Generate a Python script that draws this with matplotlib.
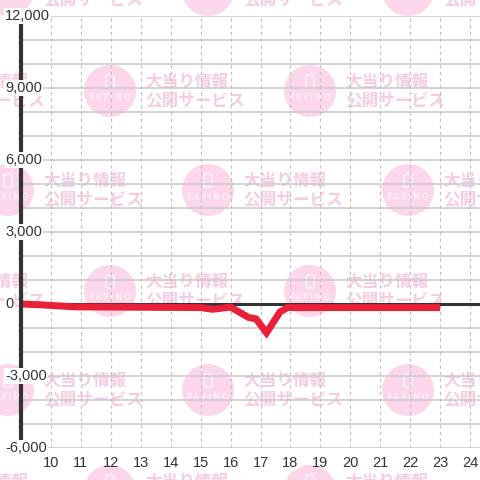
import matplotlib
matplotlib.use("Agg")
import matplotlib.pyplot as plt
from matplotlib.patches import Circle, FancyBboxPatch
from matplotlib import transforms

# データ（時刻と差枚）
hours = [9.0, 9.6, 10.8, 15.0, 15.4, 16.0, 16.6, 16.85, 17.2, 17.65, 17.9, 23.0]
values = [0, -30, -120, -150, -220, -130, -560, -620, -1200, -330, -150, -150]

x_ticks = list(range(10, 25))
y_ticks = [12000, 9000, 6000, 3000, 0, -3000, -6000]
y_labels = ["12,000", "9,000", "6,000", "3,000", "0", "-3,000", "-6,000"]

plt.rcParams['font.family'] = ['Liberation Sans', 'DejaVu Sans']

fig = plt.figure(figsize=(4.8, 4.8), dpi=100)
fig.patch.set_facecolor("white")

# 背景の透かし（ピクセル座標）
bg = fig.add_axes([0, 0, 1, 1], zorder=-1)
bg.set_xlim(0, 480)
bg.set_ylim(480, 0)
bg.axis("off")

pink_circle = "#fcd7eb"
pink_text = "#f7cbe3"


def watermark(cx, cy):
    bg.add_patch(Circle((cx, cy), 26, color=pink_circle, lw=0))
    bg.add_patch(FancyBboxPatch((cx - 4, cy - 16), 8, 13,
                                boxstyle="round,pad=0,rounding_size=1.5",
                                fill=False, ec="white", lw=0.8))
    bg.text(cx, cy + 7, "P A P I M O", color="white", fontsize=5.5, ha="center",
            va="center", family="DejaVu Sans")
    bg.text(cx + 35, cy - 9, "大当り情報", color=pink_text, fontsize=12,
            ha="left", va="center", fontweight="bold",
            family=["Noto Sans CJK JP", "DejaVu Sans"])
    bg.text(cx + 35, cy + 9, "公開サービス", color=pink_text, fontsize=12,
            ha="left", va="center", fontweight="bold",
            family=["Noto Sans CJK JP", "DejaVu Sans"])


for row in range(-1, 3):
    for col in range(-1, 3):
        watermark(110 + 200 * col, 91 + 200 * row)
        watermark(8 + 200 * col, 190 + 200 * row)

# メインのグラフ
ax = fig.add_axes([21 / 480, 32 / 480, 1 - 21 / 480, 432 / 480])
ax.set_facecolor("none")
ax.set_xlim(9, 24.33)
ax.set_ylim(-6000, 12000)

for y in range(-6000, 12001, 1000):
    ax.axhline(y, color="#c8c8c8", lw=1.1, zorder=1)
for x in x_ticks:
    ax.axvline(x, color="#c0c0c0", lw=0.8, ls=(0, (3, 3)), zorder=1)

ax.axhline(0, color="#333333", lw=2.2, zorder=3)

ax.plot(hours, values, color="#ea1f38", lw=5, solid_joinstyle="miter",
        solid_capstyle="butt", zorder=4)

for s in ["top", "right", "bottom"]:
    ax.spines[s].set_visible(False)
ax.spines["left"].set_color("#333333")
ax.spines["left"].set_linewidth(3)
ax.spines["left"].set_zorder(5)

ax.set_xticks(x_ticks)
ax.set_xticklabels([str(x) for x in x_ticks], fontsize=10.5, color="#333333")
ax.tick_params(axis="x", length=0, pad=6)
ax.set_yticks([])

trans = transforms.blended_transform_factory(fig.transFigure, ax.transData)
for v, lab in zip(y_ticks, y_labels):
    ax.text(5 / 480, v, lab, transform=trans, ha="left", va="center",
            fontsize=10.5, color="#333333", zorder=10, clip_on=False,
            bbox=dict(facecolor="white", edgecolor="none", pad=1))

fig.savefig("out.png", dpi=100)
